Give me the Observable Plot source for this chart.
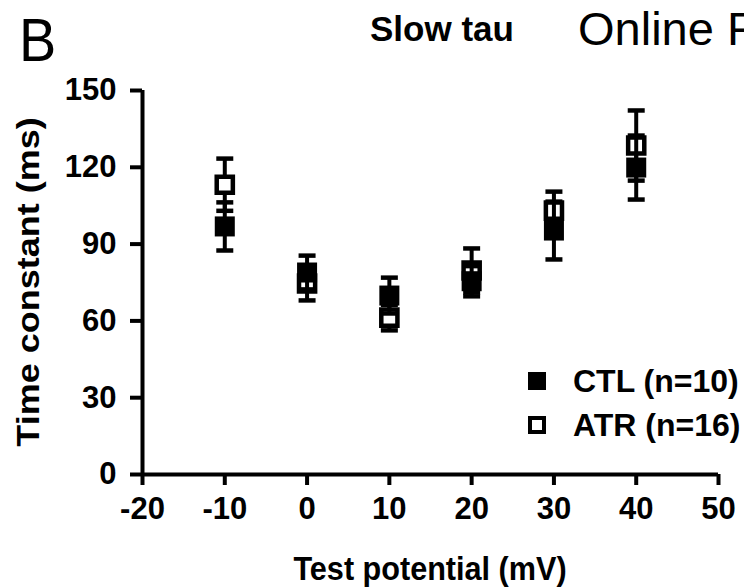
<!DOCTYPE html>
<html>
<head>
<meta charset="utf-8">
<script src="https://cdn.jsdelivr.net/npm/d3@7"></script>
<script src="https://cdn.jsdelivr.net/npm/@observablehq/plot@0.6"></script>
<style>
  html, body { margin: 0; padding: 0; background: #fff; }
  #wrap { position: relative; width: 744px; height: 587px; overflow: hidden; font-family: "Liberation Sans", Arial, Helvetica, sans-serif; }
  .t { position: absolute; white-space: nowrap; color: #000; line-height: 1; }
  .lg { position: absolute; box-sizing: border-box; }
</style>
</head>
<body>
<div id="wrap"></div>
<script>
// ---- data ----
const potentials = [-10, 0, 10, 20, 30, 40];
const ctlMean = [96.9, 78.9, 69.9, 75.5, 95.3, 119.9];
const ctlErr  = [9.4, 6.6, 7.0, 5.9, 11.3, 12.5];
const atrMean = [113.2, 74.6, 61.3, 79.7, 103.1, 128.5];
const atrErr  = [10.2, 6.6, 5.0, 8.6, 7.4, 13.7];
const xTicks = [-20, -10, 0, 10, 20, 30, 40, 50];
const yTicks = [0, 30, 60, 90, 120, 150];
const seriesNames = ["CTL (n=10)", "ATR (n=16)"];

const ctl = potentials.map((x, i) => ({x, m: ctlMean[i], lo: ctlMean[i] - ctlErr[i], hi: ctlMean[i] + ctlErr[i]}));
const atr = potentials.map((x, i) => ({x, m: atrMean[i], lo: atrMean[i] - atrErr[i], hi: atrMean[i] + atrErr[i]}));

const capSymbol = {
  draw(ctx, size) {
    const w = Math.sqrt(size / Math.PI);
    ctx.moveTo(-w, 0);
    ctx.lineTo(w, 0);
  }
};

function errMarks(data) {
  return [
    Plot.ruleX(data, {x: "x", y1: "lo", y2: "hi", stroke: "#000", strokeWidth: 4}),
    Plot.dot(data, {x: "x", y: "lo", symbol: capSymbol, r: 8.5, stroke: "#000", strokeWidth: 4.5, fill: "none"}),
    Plot.dot(data, {x: "x", y: "hi", symbol: capSymbol, r: 8.5, stroke: "#000", strokeWidth: 4.5, fill: "none"})
  ];
}

const font = '"Liberation Sans", Arial, Helvetica, sans-serif';

const chart = Plot.plot({
  width: 744,
  height: 587,
  marginLeft: 142,
  marginRight: 26,
  marginTop: 90,
  marginBottom: 113,
  style: {fontFamily: font, background: "transparent", overflow: "visible"},
  x: {domain: [-20, 50]},
  y: {domain: [0, 150]},
  marks: [
    Plot.axisY({ticks: yTicks, tickSize: 12, tickPadding: 14, strokeWidth: 4, fontSize: 31, fontWeight: "bold", label: null, tickFormat: d => String(d)}),
    Plot.axisX({ticks: xTicks, tickSize: 11, tickPadding: 11, strokeWidth: 4, fontSize: 31, fontWeight: "bold", label: null, tickFormat: d => String(d)}),
    Plot.ruleY([0], {stroke: "#000", strokeWidth: 4}),
    Plot.ruleX([-20], {stroke: "#000", strokeWidth: 4}),
    ...errMarks(atr),
    Plot.dot(atr, {x: "x", y: "m", symbol: "square", r: 9.1, fill: "#fff", stroke: "#000", strokeWidth: 4.5}),
    ...errMarks(ctl),
    Plot.dot(ctl, {x: "x", y: "m", symbol: "square", r: 11.3, fill: "#000", stroke: "none"})
  ]
});

const wrap = document.getElementById("wrap");
chart.style.position = "absolute";
chart.style.left = "0px";
chart.style.top = "0px";
wrap.appendChild(chart);

function addText(txt, css) {
  const d = document.createElement("div");
  d.className = "t";
  d.textContent = txt;
  Object.assign(d.style, css);
  wrap.appendChild(d);
  return d;
}

// panel letter and titles
addText("B", {left: "19px", top: "9px", fontSize: "62px", fontWeight: "normal", transform: "scaleX(0.9)", transformOrigin: "0 0"});
addText("Slow tau", {left: "370px", top: "11px", fontSize: "35px", fontWeight: "bold"});
addText("Online F", {left: "578px", top: "5px", fontSize: "47px", fontWeight: "normal"});

// axis titles
addText("Test potential (mV)", {left: "430px", top: "551px", fontSize: "34px", fontWeight: "bold", transform: "translateX(-50%) scaleX(0.9)", transformOrigin: "50% 50%"});
addText("Time constant (ms)", {left: "29px", top: "282px", fontSize: "36px", fontWeight: "bold", transform: "translate(-50%, -50%) rotate(-90deg) scaleY(0.85)"});

// legend
const sq1 = document.createElement("div");
sq1.className = "lg";
Object.assign(sq1.style, {left: "528px", top: "372px", width: "18px", height: "18px", background: "#000"});
wrap.appendChild(sq1);
const sq2 = document.createElement("div");
sq2.className = "lg";
Object.assign(sq2.style, {left: "528px", top: "416px", width: "18px", height: "18px", border: "4px solid #000", background: "#fff"});
wrap.appendChild(sq2);
addText(seriesNames[0], {left: "573px", top: "365px", fontSize: "32px", fontWeight: "bold"});
addText(seriesNames[1], {left: "573px", top: "409px", fontSize: "32px", fontWeight: "bold"});
</script>
</body>
</html>
